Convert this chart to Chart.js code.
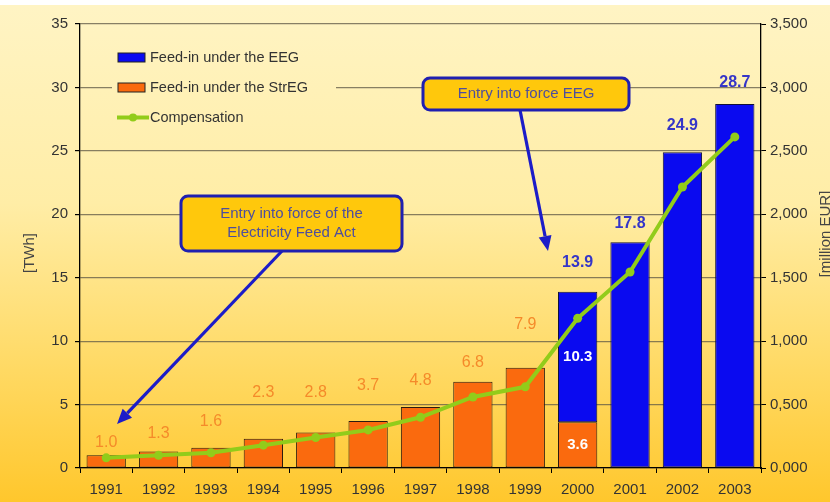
<!DOCTYPE html>
<html lang="en">
<head>
<meta charset="UTF-8">
<title>Feed-in and compensation</title>
<style>
  html, body { margin: 0; padding: 0; background: #fff; }
  .chart-box { position: relative; width: 830px; height: 502px; }
</style>
</head>
<body>
<div class="chart-box"><canvas id="feedChart"></canvas></div>
<script src="https://cdn.jsdelivr.net/npm/chart.js"></script>
<script>
// feed-in [TWh] and compensation [million EUR] per year
const years = ['1991', '1992', '1993', '1994', '1995', '1996', '1997', '1998', '1999', '2000', '2001', '2002', '2003'];
const feedStrEG = [1.0, 1.3, 1.6, 2.3, 2.8, 3.7, 4.8, 6.8, 7.9, 3.6, null, null, null];
const feedEEG = [null, null, null, null, null, null, null, null, null, 10.3, 17.8, 24.9, 28.7];
const compensation = [80, 100, 120, 180, 240, 300, 400, 560, 640, 1180, 1545, 2215, 2610];
const twhTicks = [0, 5, 10, 15, 20, 25, 30, 35];
const eurTickLabels = ['0,000', '0,500', '1,000', '1,500', '2,000', '2,500', '3,000', '3,500'];

// how far (px) each value label sits above its bar
const labelLift = [13, 18, 26, 46, 40, 35, 27, 19, 43, 29, 19, 27, 21];

const FONT = "'Liberation Sans', Arial, sans-serif";
const BLUE = '#0A0AF0';
const ORANGE = '#FA6A0E';
const GREEN = '#92CC1A';

function bgGradient(ctx, h) {
    const g = ctx.createLinearGradient(0, 5, 0, h);
    g.addColorStop(0, '#FFF4C4');
    g.addColorStop(0.4, '#FFEDA6');
    g.addColorStop(0.72, '#FFDA66');
    g.addColorStop(1, '#FFC72C');
    return g;
}

const backdrop = {
    id: 'backdrop',
    beforeDraw(chart) {
        const { ctx, width, height } = chart;
        ctx.save();
        ctx.fillStyle = '#fff';
        ctx.fillRect(0, 0, width, height);
        ctx.fillStyle = bgGradient(ctx, height);
        ctx.fillRect(0, 5, width, height - 5);
        ctx.restore();
    }
};

function fmt(v) {
    return v.toFixed(1);
}

const valueLabels = {
    id: 'valueLabels',
    afterDatasetsDraw(chart) {
        const ctx = chart.ctx;
        const strMeta = chart.getDatasetMeta(1);
        const eegMeta = chart.getDatasetMeta(2);
        ctx.save();
        ctx.textAlign = 'center';
        ctx.textBaseline = 'middle';
        years.forEach((y, i) => {
            const s = feedStrEG[i];
            const e = feedEEG[i];
            const sBar = strMeta.data[i];
            const eBar = eegMeta.data[i];
            if (e == null) {
                ctx.font = '16px ' + FONT;
                ctx.fillStyle = '#F58A2A';
                ctx.fillText(fmt(s), sBar.x, sBar.y - labelLift[i]);
                return;
            }
            if (s != null) {
                // both parts stacked: values inside, total on top
                ctx.font = 'bold 15px ' + FONT;
                ctx.fillStyle = '#fff';
                ctx.fillText(fmt(s), sBar.x, (sBar.y + sBar.base) / 2);
                ctx.fillText(fmt(e), eBar.x, (eBar.y + eBar.base) / 2);
            }
            ctx.font = 'bold 16px ' + FONT;
            ctx.fillStyle = '#3535C8';
            ctx.fillText(fmt((s || 0) + e), eBar.x, eBar.y - labelLift[i]);
        });
        ctx.restore();
    }
};

const legendItems = [
    { text: 'Feed-in under the EEG', type: 'box', color: BLUE },
    { text: 'Feed-in under the StrEG', type: 'box', color: ORANGE },
    { text: 'Compensation', type: 'line', color: GREEN }
];

const callouts = [
    { x: 423, y: 78, w: 206, h: 32, lines: ['Entry into force EEG'], from: [520, 110], to: [548, 251] },
    { x: 181, y: 196, w: 221, h: 55, lines: ['Entry into force of the', 'Electricity Feed Act'], from: [282, 251], to: [117, 424] }
];

function drawArrow(ctx, from, to) {
    const ang = Math.atan2(to[1] - from[1], to[0] - from[0]);
    const len = 15, half = 6.5;
    const bx = to[0] - Math.cos(ang) * len;
    const by = to[1] - Math.sin(ang) * len;
    ctx.strokeStyle = '#1C1CC8';
    ctx.fillStyle = '#1C1CC8';
    ctx.lineWidth = 3.2;
    ctx.beginPath();
    ctx.moveTo(from[0], from[1]);
    ctx.lineTo(bx, by);
    ctx.stroke();
    ctx.beginPath();
    ctx.moveTo(to[0], to[1]);
    ctx.lineTo(bx - Math.sin(ang) * half, by + Math.cos(ang) * half);
    ctx.lineTo(bx + Math.sin(ang) * half, by - Math.cos(ang) * half);
    ctx.closePath();
    ctx.fill();
}

const overlay = {
    id: 'overlay',
    afterDraw(chart) {
        const { ctx, height } = chart;
        ctx.save();

        // legend sits on a patch of background covering the grid
        ctx.fillStyle = bgGradient(ctx, height);
        ctx.fillRect(112, 40, 224, 92);
        legendItems.forEach((it, k) => {
            const cy = 57.5 + k * 30;
            if (it.type === 'box') {
                ctx.fillStyle = it.color;
                ctx.fillRect(118, cy - 4.5, 27, 9);
                ctx.strokeStyle = '#222';
                ctx.lineWidth = 1;
                ctx.strokeRect(118, cy - 4.5, 27, 9);
            } else {
                ctx.strokeStyle = it.color;
                ctx.lineWidth = 4;
                ctx.beginPath();
                ctx.moveTo(117, cy);
                ctx.lineTo(149, cy);
                ctx.stroke();
                ctx.fillStyle = it.color;
                ctx.beginPath();
                ctx.arc(133, cy, 4, 0, Math.PI * 2);
                ctx.fill();
            }
            ctx.fillStyle = '#333';
            ctx.font = '14.5px ' + FONT;
            ctx.textAlign = 'left';
            ctx.textBaseline = 'middle';
            ctx.fillText(it.text, 150, cy);
        });

        // callout boxes with arrows
        callouts.forEach(c => {
            drawArrow(ctx, c.from, c.to);
            ctx.beginPath();
            ctx.roundRect(c.x, c.y, c.w, c.h, 7);
            ctx.fillStyle = '#FFC80C';
            ctx.fill();
            ctx.lineWidth = 3;
            ctx.strokeStyle = '#1F1FB0';
            ctx.stroke();
            ctx.fillStyle = '#4E4E9E';
            ctx.font = '15px ' + FONT;
            ctx.textAlign = 'center';
            ctx.textBaseline = 'middle';
            const lh = 19;
            const y0 = c.y + c.h / 2 - (c.lines.length - 1) * lh / 2;
            c.lines.forEach((t, k) => ctx.fillText(t, c.x + c.w / 2, y0 + k * lh));
        });

        // axis titles
        ctx.fillStyle = '#444';
        ctx.font = '15px ' + FONT;
        ctx.textAlign = 'center';
        ctx.textBaseline = 'middle';
        ctx.translate(30, 253);
        ctx.rotate(-Math.PI / 2);
        ctx.fillText('[TWh]', 0, 0);
        ctx.setTransform(1, 0, 0, 1, 0, 0);
        ctx.translate(826, 234);
        ctx.rotate(-Math.PI / 2);
        ctx.fillText('[million EUR]', 0, 0);
        ctx.restore();
    }
};

const tickFont = { family: FONT, size: 15 };

new Chart(document.getElementById('feedChart'), {
    type: 'bar',
    data: {
        labels: years,
        datasets: [
            {
                type: 'line',
                label: 'Compensation',
                data: compensation,
                yAxisID: 'y1',
                borderColor: GREEN,
                backgroundColor: GREEN,
                borderWidth: 4,
                pointRadius: 4.5,
                pointBorderWidth: 0,
                pointBackgroundColor: GREEN,
                tension: 0,
                order: 0
            },
            {
                label: 'Feed-in under the StrEG',
                data: feedStrEG,
                backgroundColor: ORANGE,
                borderColor: '#2a1a10',
                borderWidth: 1,
                borderSkipped: false,
                yAxisID: 'y',
                order: 1
            },
            {
                label: 'Feed-in under the EEG',
                data: feedEEG,
                backgroundColor: BLUE,
                borderColor: '#10103a',
                borderWidth: 1,
                borderSkipped: false,
                yAxisID: 'y',
                order: 1
            }
        ]
    },
    options: {
        responsive: true,
        maintainAspectRatio: false,
        animation: false,
        layout: { padding: { top: 24, left: 0, right: 0, bottom: 0 } },
        datasets: { bar: { barPercentage: 0.75, categoryPercentage: 1 } },
        plugins: {
            legend: { display: false },
            tooltip: { enabled: false }
        },
        scales: {
            x: {
                stacked: true,
                offset: true,
                grid: { offset: true, drawOnChartArea: false, tickLength: 5, tickColor: '#000', tickWidth: 1 },
                border: { color: '#000', width: 1.3 },
                ticks: { color: '#333', font: tickFont, padding: 8, maxRotation: 0 },
                afterFit(scale) { scale.height = 34; }
            },
            y: {
                stacked: true,
                position: 'left',
                min: 0,
                max: 35,
                afterBuildTicks(scale) { scale.ticks = twhTicks.map(v => ({ value: v })); },
                grid: { color: 'rgba(95,88,70,0.75)', lineWidth: 1.2, tickLength: 5, tickColor: '#000' },
                border: { color: '#000', width: 1.3 },
                ticks: { color: '#333', font: tickFont, padding: 7 },
                afterFit(scale) { scale.width = 80; }
            },
            y1: {
                position: 'right',
                min: 0,
                max: 3500,
                afterBuildTicks(scale) { scale.ticks = eurTickLabels.map((t, i) => ({ value: i * 500 })); },
                grid: { drawOnChartArea: false, tickLength: 5, tickColor: '#000' },
                border: { color: '#000', width: 1.3 },
                ticks: { color: '#333', font: tickFont, padding: 4, callback: (v, i) => eurTickLabels[i] },
                afterFit(scale) { scale.width = 69; }
            }
        }
    },
    plugins: [backdrop, valueLabels, overlay]
});
</script>
</body>
</html>
